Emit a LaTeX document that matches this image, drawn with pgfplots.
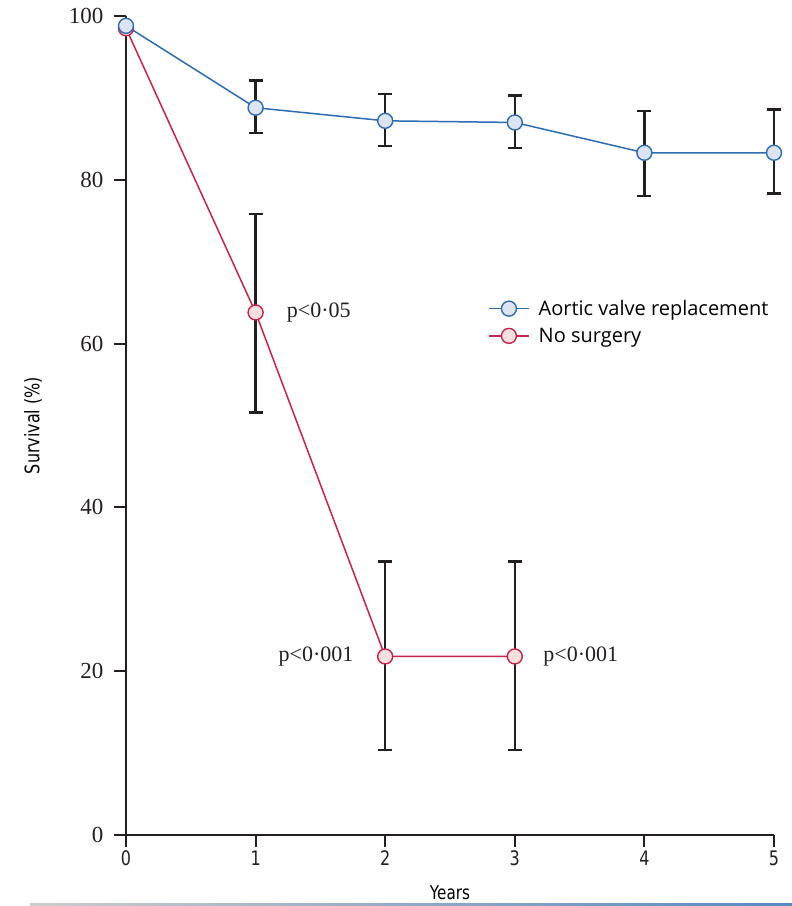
\documentclass[border=0pt]{standalone}
\usepackage{fontspec}
\usepackage{pgfplots}
\pgfplotsset{compat=1.18}
\newfontfamily\condsans[FakeStretch=0.8]{DejaVu Sans}
\newfontfamily\legfont{Open Sans}
\newfontfamily\numserif{Liberation Serif}
\definecolor{axisgray}{HTML}{231F20}
\definecolor{avr}{HTML}{2B6CB3}
\definecolor{avrfill}{HTML}{DCE3F1}
\definecolor{nosurg}{HTML}{C8234B}
\definecolor{nosurgfill}{HTML}{F3E0DE}

\begin{document}
\begin{tikzpicture}
\useasboundingbox (-126pt,-71pt) rectangle (666pt,835pt);
\begin{axis}[
    at={(0pt,0pt)}, anchor=south west,
    scale only axis, width=648pt, height=819pt,
    xmin=0, xmax=5, ymin=0, ymax=100,
    axis lines*=left,
    axis line style={-, line width=2pt, color=axisgray},
    xtick={0,1,2,3,4,5},
    ytick={0,20,40,60,80,100},
    tick align=outside,
    major tick length=12pt,
    tick style={line width=2pt, color=axisgray},
    /pgf/number format/assume math mode=true,
    xticklabel style={font=\condsans\fontsize{20}{20}\selectfont, text=axisgray},
    yticklabel style={font=\numserif\fontsize{23}{23}\selectfont, text=axisgray, xshift=-7pt},
    xlabel={Years},
    ylabel={Survival (\%)},
    xlabel style={font=\condsans\fontsize{19}{19}\selectfont, at={(axis description cs:0.5,0)}, anchor=center, yshift=-58pt},
    ylabel style={font=\condsans\fontsize{20}{20}\selectfont, at={(axis description cs:0,0.5)}, anchor=center, yshift=93pt},
    clip=false,
    reverse legend,
    legend style={at={(axis description cs:0.554,0.658)}, anchor=north west,
        draw=none, fill=none, font=\legfont\fontsize{20}{22}\selectfont,
        row sep=7pt, cells={anchor=west}},
    legend image code/.code={
        \draw[mark repeat=2, mark phase=2, #1] plot coordinates {(0pt,0pt) (20pt,0pt) (40pt,0pt)};
    },
]

% error bars
\addplot[draw=none, mark=none, forget plot,
    error bars/.cd, y dir=both, y explicit,
    error bar style={line width=2.5pt, color=axisgray},
    error mark options={rotate=90, mark size=7pt, line width=2.5pt, color=axisgray}]
coordinates {
    (1,88.8) += (0,3.3) -= (0,3.1)
    (2,87.2) += (0,3.3) -= (0,3.1)
    (3,87.0) += (0,3.3) -= (0,3.1)
    (4,83.3) += (0,5.1) -= (0,5.3)
    (5,83.3) += (0,5.3) -= (0,5.0)
    (1,63.8) += (0,12.0) -= (0,12.2)
    (2,21.8) += (0,11.6) -= (0,11.4)
    (3,21.8) += (0,11.6) -= (0,11.4)
};

\addplot[color=nosurg, line width=1.5pt, mark=*, mark size=7.5pt,
    mark options={fill=nosurgfill, draw=nosurg, line width=1.4pt}]
coordinates {(0,98.5) (1,63.8) (2,21.8) (3,21.8)};
\addlegendentry{\hspace{7pt}No surgery}

\addplot[color=avr, line width=1.5pt, mark=*, mark size=7.5pt,
    mark options={fill=avrfill, draw=avr, line width=1.4pt}]
coordinates {(0,98.8) (1,88.8) (2,87.2) (3,87.0) (4,83.3) (5,83.3)};
\addlegendentry{\hspace{7pt}Aortic valve replacement}

\node[anchor=west, font=\numserif\fontsize{22}{22}\selectfont, text=axisgray] at (axis cs:1.215,63.8) {p<0·05};
\node[anchor=east, font=\numserif\fontsize{22}{22}\selectfont, text=axisgray] at (axis cs:1.782,21.8) {p<0·001};
\node[anchor=west, font=\numserif\fontsize{22}{22}\selectfont, text=axisgray] at (axis cs:3.194,21.8) {p<0·001};
\end{axis}
\fill[left color=gray!40, right color=avr!80] (-96pt,-71pt) rectangle (666pt,-68pt);
\end{tikzpicture}
\end{document}
